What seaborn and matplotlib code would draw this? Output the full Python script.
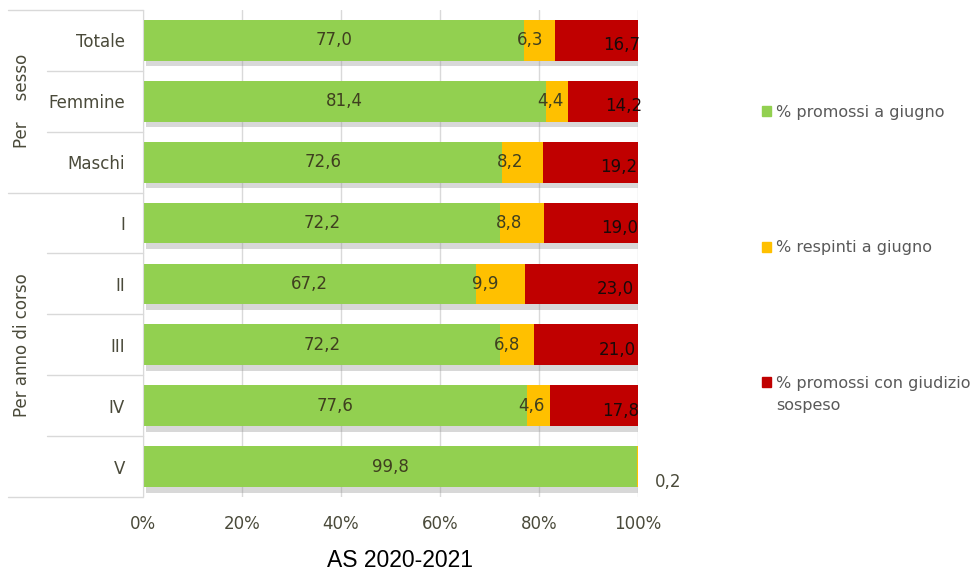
import pandas as pd
import matplotlib.pyplot as plt
import matplotlib.patheffects as pe
from matplotlib.patches import Patch
import seaborn as sns

# Dati (AS 2020-2021)
categories = ['Totale', 'Femmine', 'Maschi', 'I', 'II', 'III', 'IV', 'V']
promossi = [77.0, 81.4, 72.6, 72.2, 67.2, 72.2, 77.6, 99.8]
respinti = [6.3, 4.4, 8.2, 8.8, 9.9, 6.8, 4.6, 0.2]
sospeso = [16.7, 14.2, 19.2, 19.0, 23.0, 21.0, 17.8, 0.0]
series_names = ['% promossi a giugno', '% respinti a giugno', '% promossi con giudizio']
series_name_wrap = 'sospeso'
groups = [('Per    sesso', 0, 2), ('Per anno di corso', 3, 7)]
xticks = [0, 20, 40, 60, 80, 100]

green, orange, red = '#92D050', '#FFC000', '#C00000'
grid_col = '#d9d9d9'
text_col = '#4a4a3a'

sns.set_style('white')
plt.rcParams['font.family'] = ['DejaVu Sans']

df = pd.DataFrame({'cat': categories, 'p': promossi, 'r': respinti, 's': sospeso})
df['c2'] = df['p'] + df['r']
df['c3'] = df['c2'] + df['s']

fig = plt.figure(figsize=(9.75, 5.73), dpi=100)
ax = fig.add_axes([0.1467, 0.1326, 0.5077, 0.8500])

# stacked bars drawn as cumulative totals, back to front
sns.barplot(data=df, x='c3', y='cat', order=categories, color=red, width=0.67,
            saturation=1, errorbar=None, orient='h', linewidth=0, ax=ax)
for patch in ax.patches:
    patch.set_path_effects([pe.SimplePatchShadow(offset=(2, -4), shadow_rgbFace='#909090', alpha=0.35),
                            pe.Normal()])
sns.barplot(data=df, x='c2', y='cat', order=categories, color=orange, width=0.67,
            saturation=1, errorbar=None, orient='h', linewidth=0, ax=ax)
sns.barplot(data=df, x='p', y='cat', order=categories, color=green, width=0.67,
            saturation=1, errorbar=None, orient='h', linewidth=0, ax=ax)

ax.set_xlim(0, 100)
ax.set_ylim(len(categories) - 0.5, -0.5)
ax.set_xlabel('')
ax.set_ylabel('')

def fmt(v):
    return f'{v:.1f}'.replace('.', ',')

# data labels
for i, row in df.iterrows():
    ax.text(row['p'] / 2, i, fmt(row['p']), ha='center', va='center', fontsize=12, color='#3f3f1f')
    if row['r'] < 1:
        ax.text(row['c2'] + 6, i + 0.25, fmt(row['r']), ha='center', va='center', fontsize=12,
                color=text_col, clip_on=False)
    else:
        ax.text(row['p'] + 0.2 * row['r'], i, fmt(row['r']), ha='center', va='center',
                fontsize=12, color='#3f3f1f')
    if row['s'] > 0:
        ax.text(row['c2'] + 0.8 * row['s'], i + 0.08, fmt(row['s']), ha='center', va='center',
                fontsize=12, color='#1a0a0a')

# axes styling
ax.set_xticks(xticks)
ax.set_xticklabels([f'{v}%' for v in xticks])
ax.xaxis.grid(True, color=grid_col, lw=1)
ax.set_axisbelow(True)
for side in ['top', 'right', 'bottom']:
    ax.spines[side].set_visible(False)
ax.spines['left'].set_color(grid_col)
ax.tick_params(axis='y', length=0, pad=13, labelsize=12, labelcolor=text_col)
ax.tick_params(axis='x', length=6, color=grid_col, pad=7, labelsize=12, labelcolor=text_col)

# group separators and group labels in the label area
trans = ax.get_yaxis_transform()
group_edges = {-0.5} | {g[2] + 0.5 for g in groups}
for k in range(len(categories) + 1):
    b = k - 0.5
    x0 = -0.273 if b in group_edges else -0.194
    ax.plot([x0, 0], [b, b], transform=trans, clip_on=False, color=grid_col, lw=1)
for name, lo, hi in groups:
    ax.text(-0.244, (lo + hi) / 2, name, transform=trans, rotation=90, ha='center', va='center',
            fontsize=12, color=text_col)

# legend
handles = [Patch(color=c) for c in (green, orange, red)]
leg = fig.legend(handles, series_names, loc='upper left', bbox_to_anchor=(0.773, 0.831),
                 frameon=False, fontsize=11.5, labelcolor='#595959', handlelength=0.6,
                 handleheight=0.6, handletextpad=0.3, labelspacing=7.55, borderpad=0)
fig.canvas.draw()
bb = leg.get_texts()[-1].get_window_extent().transformed(fig.transFigure.inverted())
fig.text(bb.x0, bb.y0 - 0.012, series_name_wrap, ha='left', va='top', fontsize=11.5, color='#595959')

fig.text(0.41, 0.022, 'AS 2020-2021', ha='center', va='center', fontsize=16.5,
         family='Liberation Sans', color='black')

fig.savefig('out.png', dpi=100)
